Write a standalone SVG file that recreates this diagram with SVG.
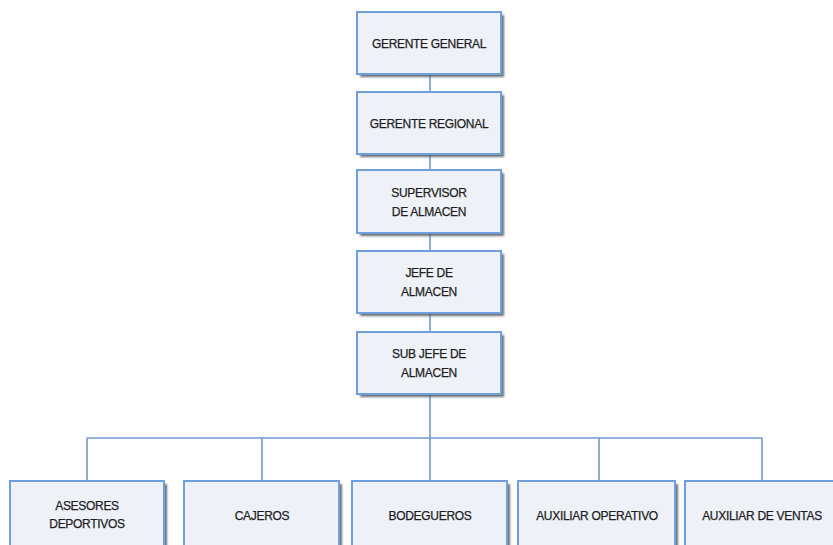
<svg xmlns="http://www.w3.org/2000/svg" width="833" height="545" viewBox="0 0 833 545">
<style>
.box{fill:#eef1f8;stroke:#6f9fdc;stroke-width:2}
.sh{fill:#50545c;opacity:0.85}
.t{font-family:"Liberation Sans",Arial,sans-serif;font-size:12px;fill:#1e1e1e;stroke:#1e1e1e;stroke-width:0.25;text-anchor:middle;letter-spacing:-0.3px}
.c{fill:none;stroke:#6f9bcf;stroke-width:1.6}
</style>
<defs>
<filter id="b" x="-10%" y="-10%" width="120%" height="130%"><feGaussianBlur stdDeviation="0.8"/></filter>
</defs>
<rect width="833" height="545" fill="#ffffff"/>
<g id="connectors">
<path class="c" d="M430 75V92M430 155V170M430 233V251M430 313V332M430 395V438M87 438H762M87 438V481M262 438V481M430 438V481M599 438V481M762 438V481"/>
</g>
<g id="n1"><rect class="sh" x="360" y="15" width="144" height="62" filter="url(#b)"/><rect class="box" x="357" y="12" width="144" height="62"/><text class="t" x="429" y="48">GERENTE GENERAL</text></g>
<g id="n2"><rect class="sh" x="360" y="95" width="144" height="62" filter="url(#b)"/><rect class="box" x="357" y="92" width="144" height="62"/><text class="t" x="429" y="128">GERENTE REGIONAL</text></g>
<g id="n3"><rect class="sh" x="360" y="173" width="144" height="63" filter="url(#b)"/><rect class="box" x="357" y="170" width="144" height="63"/><text class="t" x="429" y="197">SUPERVISOR</text><text class="t" x="429" y="216">DE ALMACEN</text></g>
<g id="n4"><rect class="sh" x="360" y="254" width="144" height="62" filter="url(#b)"/><rect class="box" x="357" y="251" width="144" height="62"/><text class="t" x="429" y="277">JEFE DE</text><text class="t" x="429" y="296">ALMACEN</text></g>
<g id="n5"><rect class="sh" x="360" y="335" width="144" height="62" filter="url(#b)"/><rect class="box" x="357" y="332" width="144" height="62"/><text class="t" x="429" y="358">SUB JEFE DE</text><text class="t" x="429" y="377">ALMACEN</text></g>
<g id="n6"><rect class="sh" x="13" y="484" width="154" height="70" filter="url(#b)"/><rect class="box" x="10" y="481" width="154" height="70"/><text class="t" x="87" y="510">ASESORES</text><text class="t" x="87" y="528">DEPORTIVOS</text></g>
<g id="n7"><rect class="sh" x="187" y="484" width="155" height="70" filter="url(#b)"/><rect class="box" x="184" y="481" width="155" height="70"/><text class="t" x="262" y="520">CAJEROS</text></g>
<g id="n8"><rect class="sh" x="355" y="484" width="155" height="70" filter="url(#b)"/><rect class="box" x="352" y="481" width="155" height="70"/><text class="t" x="430" y="520">BODEGUEROS</text></g>
<g id="n9"><rect class="sh" x="521" y="484" width="157" height="70" filter="url(#b)"/><rect class="box" x="518" y="481" width="157" height="70"/><text class="t" x="597" y="520">AUXILIAR OPERATIVO</text></g>
<g id="n10"><rect class="sh" x="688" y="484" width="157" height="70" filter="url(#b)"/><rect class="box" x="685" y="481" width="157" height="70"/><text class="t" x="762" y="520">AUXILIAR DE VENTAS</text></g>
</svg>
